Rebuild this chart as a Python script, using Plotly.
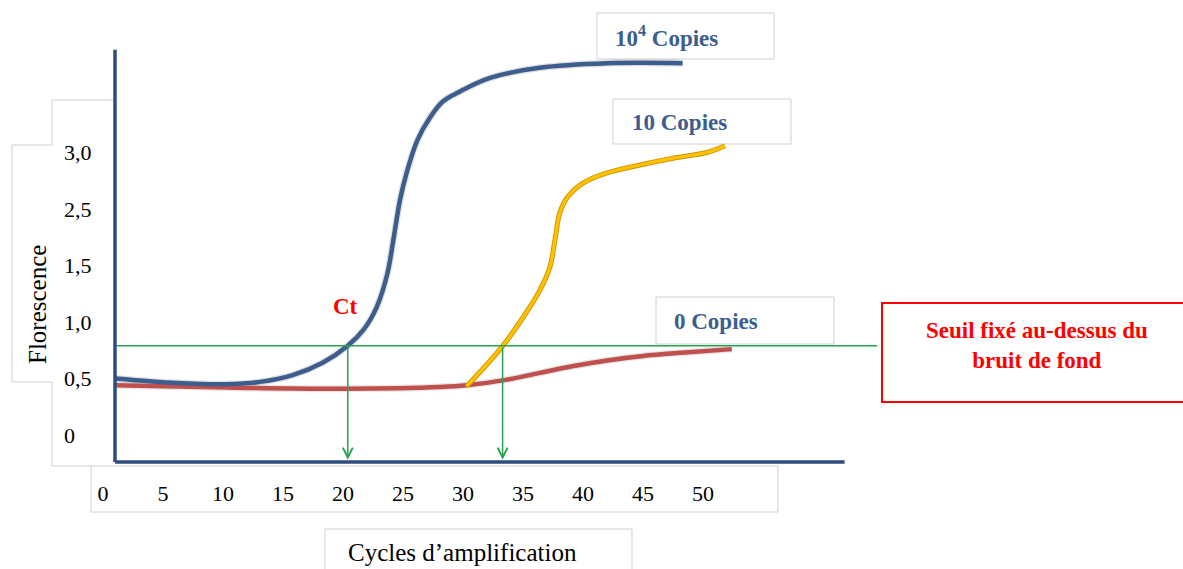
import plotly.graph_objects as go

W, H = 1183, 569

# ---------------- data ----------------
# amplification cycles (x) and fluorescence in the chart's label scale (y)
cycles_1e4 = [1.0, 6.2, 10.3, 13.1, 15.8, 18.3, 20.4, 21.7, 22.8, 23.7, 24.2,
              24.75, 25.3, 26.2, 27.25, 28.3, 29.75, 32.25, 36.4, 42.0, 48.3]
fluo_1e4 = [0.50, 0.46, 0.45, 0.47, 0.53, 0.64, 0.79, 0.93, 1.13, 1.43, 1.73,
            2.08, 2.32, 2.61, 2.81, 2.95, 3.04, 3.16, 3.25, 3.29, 3.29]

cycles_10 = [30.3, 33.25, 35.0, 36.4, 37.25, 37.67, 38.08, 38.75, 40.0, 42.0,
             44.75, 47.5, 50.33, 51.83]
fluo_10 = [0.43, 0.78, 1.04, 1.28, 1.49, 1.73, 1.97, 2.11, 2.23, 2.32,
           2.39, 2.45, 2.50, 2.56]

cycles_0 = [1.0, 10.3, 20.0, 28.1, 30.3, 33.7, 36.4, 39.2, 42.0, 45.0, 48.5, 52.4]
fluo_0 = [0.44, 0.42, 0.41, 0.425, 0.44, 0.49, 0.55, 0.61, 0.66, 0.70, 0.73, 0.76]

threshold = 0.79
ct_values = [20.4, 33.3]

x_tick_vals = [0, 5, 10, 15, 20, 25, 30, 35, 40, 45, 50]
x_tick_text = ["0", "5", "10", "15", "20", "25", "30", "35", "40", "45", "50"]
y_tick_vals = [0, 0.5, 1.0, 1.5, 2.0, 2.5]
y_tick_text = ["0", "0,5", "1,0", "1,5", "2,5", "3,0"]

series_labels = ["10<sup>4</sup> Copies", "10 Copies", "0 Copies"]
x_title = "Cycles d’amplification"
y_title = "Florescence"
ct_label = "Ct"
threshold_label = "Seuil fixé au-dessus du<br>bruit de fond"

# ---------------- styling ----------------
FONT = "Liberation Serif"
BLUE = "#3D5E8C"
AXIS_BLUE = "#2E4C7C"
RED = "#C0504D"
YELLOW = "#FFC000"
GREEN = "#27A152"
LABEL_BLUE = "#3B5E8F"
BOX_GRAY = "#CFCFCF"

X_RANGE = [-8.583, 90.0]
Y_RANGE = [-1.186, 3.850]
AXIS_X0, AXIS_X1 = 1.0, 61.8
AXIS_Y0, AXIS_Y1 = -0.239, 3.41


def px(x):
    return x / W


def py(y):
    return 1 - y / H


fig = go.Figure()

# soft shadows
fig.add_trace(go.Scatter(x=cycles_1e4, y=fluo_1e4, mode="lines",
                         line=dict(color="rgba(0,0,0,0.12)", width=7, shape="spline"),
                         hoverinfo="skip", showlegend=False))
fig.add_trace(go.Scatter(x=cycles_0, y=fluo_0, mode="lines",
                         line=dict(color="rgba(0,0,0,0.10)", width=7, shape="spline"),
                         hoverinfo="skip", showlegend=False))
fig.add_trace(go.Scatter(x=cycles_0, y=fluo_0, mode="lines", name="0 Copies",
                         line=dict(color=RED, width=4.5, shape="spline"),
                         showlegend=False))
fig.add_trace(go.Scatter(x=cycles_10, y=fluo_10, mode="lines",
                         line=dict(color="#C99700", width=5, shape="spline"),
                         hoverinfo="skip", showlegend=False))
fig.add_trace(go.Scatter(x=cycles_10, y=fluo_10, mode="lines", name="10 Copies",
                         line=dict(color=YELLOW, width=3.2, shape="spline"),
                         showlegend=False))
fig.add_trace(go.Scatter(x=cycles_1e4, y=fluo_1e4, mode="lines", name="10^4 Copies",
                         line=dict(color=BLUE, width=4.5, shape="spline"),
                         showlegend=False))

shapes = []


def box(x0, y0, x1, y1, color=BOX_GRAY, width=1):
    shapes.append(dict(type="rect", xref="paper", yref="paper",
                       x0=px(x0), x1=px(x1), y0=py(y1), y1=py(y0),
                       line=dict(color=color, width=width), fillcolor="white",
                       layer="below"))


# outline of the y tick / title text boxes (union outline)
pts = [(113, 100), (52, 100), (52, 145), (12, 145), (12, 382), (52, 382),
       (52, 466), (91, 466)]
path = "M " + " L ".join(f"{px(x):.5f},{py(y):.5f}" for x, y in pts)
shapes.append(dict(type="path", xref="paper", yref="paper", path=path,
                   line=dict(color=BOX_GRAY, width=1), layer="below"))
# x tick box
box(91, 466, 778, 512)
# x title box (bottom cut)
box(325, 529, 632, 580)
# series label boxes
box(597, 13, 774, 59)
box(613, 99, 791, 144)
box(656, 297, 834, 344)
# threshold box
box(882, 303, 1190, 402, color="#FF0000", width=2)

# threshold line
shapes.append(dict(type="line", xref="x", yref="y", x0=AXIS_X0, x1=64.5,
                   y0=threshold, y1=threshold, line=dict(color=GREEN, width=1.5)))
# axis lines
shapes.append(dict(type="line", xref="x", yref="y", x0=AXIS_X0, x1=AXIS_X0,
                   y0=AXIS_Y0, y1=AXIS_Y1, line=dict(color=AXIS_BLUE, width=3.5)))
shapes.append(dict(type="line", xref="x", yref="y", x0=AXIS_X0, x1=AXIS_X1,
                   y0=AXIS_Y0, y1=AXIS_Y0, line=dict(color=AXIS_BLUE, width=3.5)))

annotations = []
for ct in ct_values:
    annotations.append(dict(x=ct, y=AXIS_Y0 + 0.02, ax=ct, ay=threshold,
                            xref="x", yref="y", axref="x", ayref="y", text="",
                            showarrow=True, arrowhead=5, arrowsize=1.3,
                            arrowwidth=1.5, arrowcolor=GREEN, standoff=0))

label_pos = [(613, 37), (630, 122), (672, 321)]
for lab, (x, y) in zip(series_labels, label_pos):
    annotations.append(dict(x=px(x), y=py(y), xref="paper", yref="paper",
                            text=f"<b>{lab}</b>", showarrow=False,
                            xanchor="left", yanchor="middle",
                            font=dict(family=FONT, size=23, color=LABEL_BLUE)))


def center_text(x, y, text, size, color, angle=0):
    annotations.append(dict(x=px(x), y=py(y), xref="paper", yref="paper",
                            text=text, showarrow=False, align="center",
                            xanchor="center", yanchor="middle", textangle=angle,
                            font=dict(family=FONT, size=size, color=color)))


center_text(345, 306, f"<b>{ct_label}</b>", 23, "#FF0000")
center_text(1037, 345, f"<b>{threshold_label}</b>", 23, "#FF0000")
center_text(462, 552, x_title, 25, "black")
center_text(37, 305, y_title, 25, "black", angle=-90)

fig.update_layout(
    width=W, height=H,
    margin=dict(l=0, r=0, t=0, b=0, pad=0),
    paper_bgcolor="white", plot_bgcolor="rgba(0,0,0,0)",
    showlegend=False,
    shapes=shapes, annotations=annotations,
    xaxis=dict(range=X_RANGE, domain=[0, 1], showgrid=False, zeroline=False,
               showline=False, ticks="", tickvals=x_tick_vals, ticktext=x_tick_text,
               tickfont=dict(family=FONT, size=22, color="black"),
               anchor="free", position=py(478), fixedrange=True),
    yaxis=dict(range=Y_RANGE, domain=[0, 1], showgrid=False, zeroline=False,
               showline=False, ticks="", tickvals=y_tick_vals, ticktext=y_tick_text,
               tickfont=dict(family=FONT, size=22, color="black"),
               side="right", anchor="free", position=px(63), fixedrange=True),
)

fig.write_html("out.html", config={"displayModeBar": False},
               post_script="document.body.style.margin='0';document.body.style.overflow='hidden';")
